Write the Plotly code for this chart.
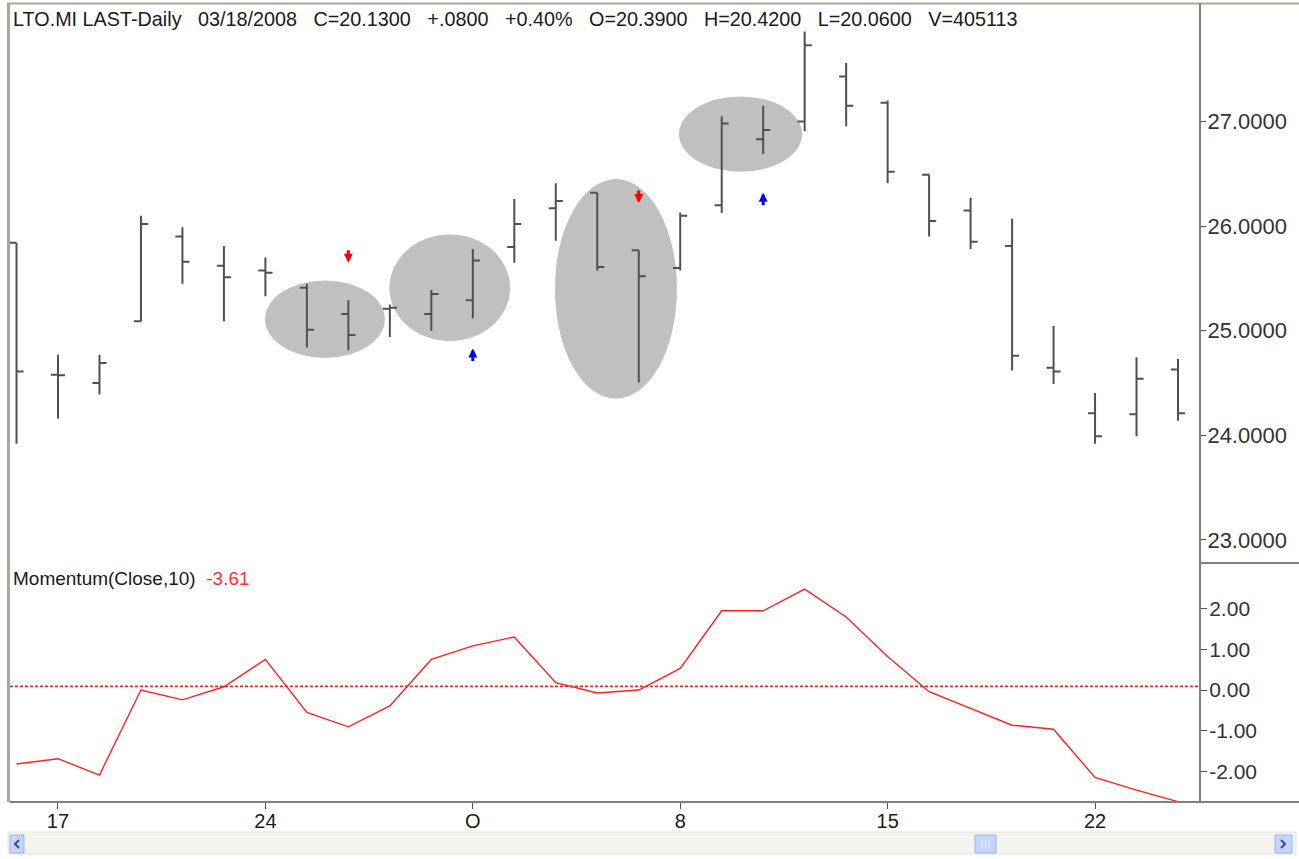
import plotly.graph_objects as go

# ---------------- data ----------------
dates = ["2007-09-14", "2007-09-17", "2007-09-18", "2007-09-19", "2007-09-20", "2007-09-21",
         "2007-09-24", "2007-09-25", "2007-09-26", "2007-09-27", "2007-09-28",
         "2007-10-01", "2007-10-02", "2007-10-03", "2007-10-04", "2007-10-05",
         "2007-10-08", "2007-10-09", "2007-10-10", "2007-10-11", "2007-10-12",
         "2007-10-15", "2007-10-16", "2007-10-17", "2007-10-18", "2007-10-19",
         "2007-10-22", "2007-10-23", "2007-10-24"]
bar_index = list(range(len(dates)))

open_ = [25.84, 24.58, 24.50, 25.09, 25.90, 25.62, 25.575, 25.41, 25.16, 25.21, 25.16, 25.29, 25.80,
         26.17, 26.32, 25.77, 25.60, 26.20, 26.83, 27.00, 27.43, 27.18, 26.49, 26.15, 25.81, 24.645,
         24.21, 24.20, 24.63]
high = [25.84, 24.77, 24.77, 26.10, 25.99, 25.81, 25.70, 25.45, 25.29, 25.25, 25.39, 25.78, 26.26,
        26.41, 26.32, 25.77, 26.13, 27.05, 27.15, 27.86, 27.56, 27.20, 26.49, 26.27, 26.07, 25.045,
        24.405, 24.745, 24.73]
low = [23.92, 24.16, 24.39, 25.09, 25.45, 25.09, 25.33, 24.84, 24.81, 24.94, 25.00, 25.12, 25.65,
       25.86, 25.575, 24.505, 25.575, 26.125, 26.69, 26.91, 26.955, 26.41, 25.90, 25.78, 24.62, 24.49,
       23.92, 23.99, 24.14]
close = [24.61, 24.575, 24.69, 26.02, 25.66, 25.51, 25.555, 25.01, 24.96, 25.22, 25.35, 25.67, 26.02,
         26.24, 25.61, 25.52, 26.10, 26.98, 26.92, 27.73, 27.15, 26.52, 26.05, 25.85, 24.76, 24.61,
         23.99, 24.54, 24.21]

momentum = [-1.81, -1.68, -2.08, 0.00, -0.24, 0.08, 0.75, -0.55, -0.90, -0.39, 0.75, 1.08, 1.30,
            0.18, -0.07, 0.00, 0.53, 1.94, 1.94, 2.47, 1.79, 0.82, -0.04, -0.45, -0.86, -0.96,
            -2.14, -2.45, -2.73]
momentum_ref_level = 0.09

x_tick_index = [1, 6, 11, 16, 21, 26]
x_tick_text = ["17", "24", "O", "8", "15", "22"]
price_tick_vals = [23, 24, 25, 26, 27]
price_tick_text = ["23.0000", "24.0000", "25.0000", "26.0000", "27.0000"]
mom_tick_vals = [2, 1, 0, -1, -2]
mom_tick_text = ["2.00", "1.00", "0.00", "-1.00", "-2.00"]

# highlighted zones: (first index, last index, low price, high price)
zones = [(5.99, 8.88, 24.74, 25.48), (8.99, 11.90, 24.90, 25.92),
         (12.98, 15.92, 24.35, 26.45), (15.97, 18.94, 26.52, 27.24)]
sell_signals_idx = [8, 15]
sell_signals_price = [25.65, 26.22]
buy_signals_idx = [11, 18]
buy_signals_price = [24.83, 26.32]

header = ("LTO.MI LAST-Daily   03/18/2008   C=20.1300   +.0800   +0.40%   O=20.3900   "
          "H=20.4200   L=20.0600   V=405113")
mom_label = "Momentum(Close,10)"
mom_last = "-3.61"

# ---------------- layout helpers ----------------
W, H = 1299, 859
def px(x):
    return x / W
def py(y):
    return 1 - y / H

PLOT_L, PLOT_R = 10, 1200
PRICE_TOP, SPLIT, MOM_BOT = 5, 563, 802
FONT = "Arial, Liberation Sans, sans-serif"
AXIS_GRAY = "#808080"

fig = go.Figure()

fig.add_trace(go.Ohlc(
    x=bar_index, open=open_, high=high, low=low, close=close,
    xaxis="x", yaxis="y2", tickwidth=0.17,
    increasing=dict(line=dict(color="#505050", width=2)),
    decreasing=dict(line=dict(color="#505050", width=2)),
    showlegend=False, hoverinfo="skip",
))

fig.add_trace(go.Scatter(
    x=bar_index, y=momentum, mode="lines", xaxis="x", yaxis="y",
    line=dict(color="#ff2020", width=1.4), showlegend=False, hoverinfo="skip",
))

shapes = []
for (x0, x1, y0, y1) in zones:
    shapes.append(dict(type="circle", xref="x", yref="y2", x0=x0, x1=x1, y0=y0, y1=y1,
                       fillcolor="#c0c0c0", line=dict(width=0), layer="below"))

shapes.append(dict(type="line", xref="x domain", yref="y", x0=0, x1=1,
                   y0=momentum_ref_level, y1=momentum_ref_level,
                   line=dict(color="#ff2020", width=1.6, dash="3px,2px")))

# frame lines
shapes += [
    dict(type="line", xref="paper", yref="paper", x0=px(8.5), x1=px(8.5), y0=py(3), y1=py(MOM_BOT),
         line=dict(color="#a9a89c", width=3)),
    dict(type="line", xref="paper", yref="paper", x0=px(7), x1=px(1299), y0=py(3.5), y1=py(3.5),
         line=dict(color="#a9a89c", width=2)),
    dict(type="line", xref="paper", yref="paper", x0=px(PLOT_R), x1=px(PLOT_R), y0=py(3), y1=py(MOM_BOT),
         line=dict(color=AXIS_GRAY, width=2)),
    dict(type="line", xref="paper", yref="paper", x0=px(PLOT_L), x1=px(1299), y0=py(MOM_BOT), y1=py(MOM_BOT),
         line=dict(color=AXIS_GRAY, width=2)),
    dict(type="line", xref="paper", yref="paper", x0=px(PLOT_R), x1=px(1299), y0=py(SPLIT), y1=py(SPLIT),
         line=dict(color=AXIS_GRAY, width=2)),
]

# scrollbar
shapes += [
    dict(type="rect", xref="paper", yref="paper", x0=px(8), x1=px(1296), y0=py(854), y1=py(832),
         fillcolor="#f4f3ee", line=dict(color="#e6e4da", width=1)),
    dict(type="rect", xref="paper", yref="paper", x0=px(10), x1=px(24), y0=py(853), y1=py(835),
         fillcolor="#c4d4fb", line=dict(color="#9db4ea", width=1)),
    dict(type="rect", xref="paper", yref="paper", x0=px(1275), x1=px(1292), y0=py(853), y1=py(835),
         fillcolor="#c4d4fb", line=dict(color="#9db4ea", width=1)),
    dict(type="rect", xref="paper", yref="paper", x0=px(975), x1=px(996), y0=py(853), y1=py(835),
         fillcolor="#c4d4fb", line=dict(color="#9db4ea", width=1)),
]
for gx in (982, 985.5, 989):
    shapes.append(dict(type="line", xref="paper", yref="paper", x0=px(gx), x1=px(gx),
                       y0=py(848), y1=py(840), line=dict(color="#eef3ff", width=1)))
# scrollbar chevrons
shapes += [
    dict(type="path", xref="paper", yref="paper",
         path=f"M {px(19)},{py(840)} L {px(15)},{py(844)} L {px(19)},{py(848)}",
         line=dict(color="#3a4a7a", width=2)),
    dict(type="path", xref="paper", yref="paper",
         path=f"M {px(1281)},{py(840)} L {px(1285)},{py(844)} L {px(1281)},{py(848)}",
         line=dict(color="#3a4a7a", width=2)),
]

annotations = [
    dict(text=header, xref="paper", yref="paper", x=px(11), y=py(19), xanchor="left",
         yanchor="middle", showarrow=False, font=dict(family=FONT, size=19.8, color="#1a1a1a")),
    dict(text=f"{mom_label}  <span style='color:#ff3030'>{mom_last}</span>", xref="paper",
         yref="paper", x=px(11), y=py(578), xanchor="left", yanchor="middle", showarrow=False,
         font=dict(family=FONT, size=19, color="#1a1a1a")),
]
for xi, yp in zip(sell_signals_idx, sell_signals_price):
    annotations.append(dict(x=xi, y=yp, xref="x", yref="y2", text="", showarrow=True,
                            ax=0, ay=-14, arrowhead=2, arrowsize=0.6, arrowwidth=3,
                            arrowcolor="#ff0000", standoff=0))
for xi, yp in zip(buy_signals_idx, buy_signals_price):
    annotations.append(dict(x=xi, y=yp, xref="x", yref="y2", text="", showarrow=True,
                            ax=0, ay=14, arrowhead=2, arrowsize=0.6, arrowwidth=3,
                            arrowcolor="#0000ff", standoff=0))

x_left = -0.157
x_right = 28.53

fig.update_layout(
    width=W, height=H, margin=dict(l=0, r=0, t=0, b=0),
    paper_bgcolor="white", plot_bgcolor="white",
    showlegend=False, shapes=shapes, annotations=annotations,
    xaxis=dict(domain=[px(PLOT_L), px(PLOT_R)], anchor="y", range=[x_left, x_right],
               tickvals=x_tick_index, ticktext=x_tick_text, ticks="outside", ticklen=6,
               tickwidth=1, tickcolor="#505050", showgrid=False, zeroline=False,
               showline=False, rangeslider=dict(visible=False), ticklabelstandoff=-5,
               tickfont=dict(family=FONT, size=20, color="#1a1a1a")),
    yaxis=dict(domain=[py(MOM_BOT), py(SPLIT)], range=[-2.74, 3.11], side="right",
               anchor="x", tickvals=mom_tick_vals, ticktext=mom_tick_text, ticks="outside",
               ticklen=6, tickcolor="#505050", showgrid=False, zeroline=False, showline=False,
               ticklabelstandoff=-2,
               tickfont=dict(family=FONT, size=21, color="#333333")),
    yaxis2=dict(domain=[py(SPLIT), py(PRICE_TOP)], range=[22.779, 28.114], side="right",
                anchor="x", tickvals=price_tick_vals, ticktext=price_tick_text, ticks="outside",
                ticklen=5, tickcolor="#505050", showgrid=False, zeroline=False, showline=False,
                ticklabelstandoff=-3,
                tickfont=dict(family=FONT, size=22, color="#333333")),
)

fig.write_html("out.html", config={"displayModeBar": False},
               post_script="document.body.style.margin='0';document.body.style.overflow='hidden';")
